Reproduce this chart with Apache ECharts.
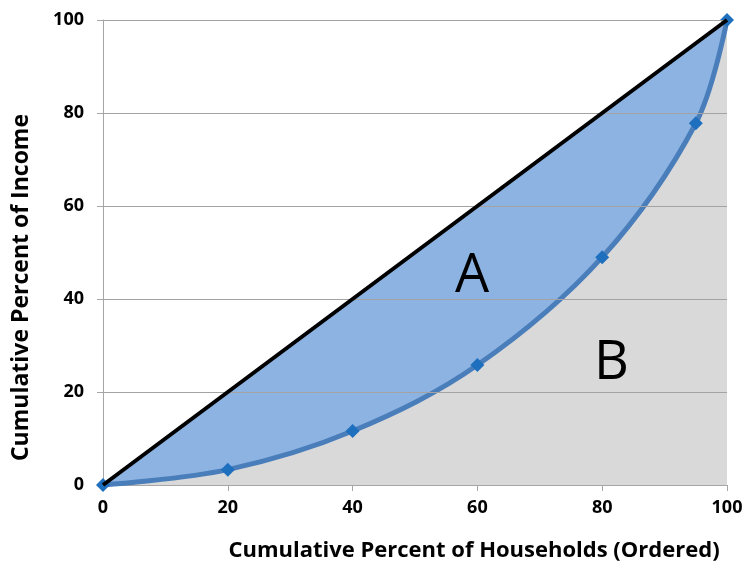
<!DOCTYPE html>
<html><head><meta charset="utf-8">
<script src="https://cdn.jsdelivr.net/npm/echarts@6/dist/echarts.min.js"></script>
<style>html,body{margin:0;padding:0;background:#fff}#c{width:746px;height:567px}</style>
</head><body><div id="c"></div>
<script>
var householdsPct = [0, 20, 40, 60, 80, 95, 100];
var incomePct = [0, 3.3, 11.6, 25.8, 49, 77.8, 100];
var equalityX = [0, 100];
var equalityY = [0, 100];
var gridValues = [20, 40, 60, 80, 100];
var xTitle = 'Cumulative Percent of Households (Ordered)';
var yTitle = 'Cumulative Percent of Income';

var font = '"Open Sans", "Liberation Sans", sans-serif';
var chart = echarts.init(document.getElementById('c'));
chart.setOption({
  animation: false,
  grid: {left: 103, right: 19, top: 20, bottom: 82},
  xAxis: {
    type: 'value', min: 0, max: 100, interval: 20,
    name: xTitle, nameLocation: 'middle', nameGap: 55,
    nameTextStyle: {fontFamily: font, fontWeight: 'bold', fontSize: 22, color: '#000', padding: [0, 0, 0, 118]},
    axisLine: {show: true, lineStyle: {color: '#a6a6a6'}},
    axisTick: {show: true, length: 6, lineStyle: {color: '#a6a6a6'}},
    axisLabel: {fontFamily: font, fontWeight: 'bold', fontSize: 18, color: '#000', margin: 14},
    splitLine: {show: false}
  },
  yAxis: {
    type: 'value', min: 0, max: 100, interval: 20,
    name: yTitle, nameLocation: 'middle', nameGap: 70,
    nameTextStyle: {fontFamily: font, fontWeight: 'bold', fontSize: 23, color: '#000', padding: [0, 70, 0, 0]},
    axisLine: {show: true, lineStyle: {color: '#a6a6a6'}},
    axisTick: {show: true, length: 6, lineStyle: {color: '#a6a6a6'}},
    axisLabel: {fontFamily: font, fontWeight: 'bold', fontSize: 18, color: '#000', margin: 19},
    splitLine: {show: true, lineStyle: {color: '#d4d4d4'}}
  },
  series: [
    {
      type: 'line', z: 1,
      data: equalityX.map(function (x, i) { return [x, equalityY[i]]; }),
      showSymbol: false, lineStyle: {width: 0},
      areaStyle: {color: '#8db3e2', opacity: 1}
    },
    {
      type: 'line', z: 2, smooth: 0.35,
      data: householdsPct.map(function (x, i) { return [x, incomePct[i]]; }),
      showSymbol: false, lineStyle: {width: 0},
      areaStyle: {color: '#d9d9d9', opacity: 1}
    },
    {
      type: 'line', z: 3, silent: true,
      data: [],
      markLine: {
        silent: true, symbol: 'none', label: {show: false},
        lineStyle: {color: '#a3a3a3', width: 1, type: 'solid'},
        data: gridValues.map(function (v) { return {yAxis: v}; })
      }
    },
    {
      type: 'line', z: 4, smooth: 0.35,
      data: householdsPct.map(function (x, i) { return [x, incomePct[i]]; }),
      symbol: 'diamond', symbolSize: 14, showSymbol: true,
      itemStyle: {color: '#1f6fbf'},
      lineStyle: {color: '#4a7ebb', width: 5}
    },
    {
      type: 'line', z: 5,
      data: equalityX.map(function (x, i) { return [x, equalityY[i]]; }),
      showSymbol: false,
      lineStyle: {color: '#000', width: 4}
    }
  ],
  graphic: [
    {type: 'text', left: 455, top: 250, z: 100, style: {text: 'A', font: '54px "Open Sans", "Liberation Sans", sans-serif', fill: '#000'}},
    {type: 'text', left: 594, top: 337, z: 100, style: {text: 'B', font: '54px "Open Sans", "Liberation Sans", sans-serif', fill: '#000'}}
  ]
});
</script></body></html>
